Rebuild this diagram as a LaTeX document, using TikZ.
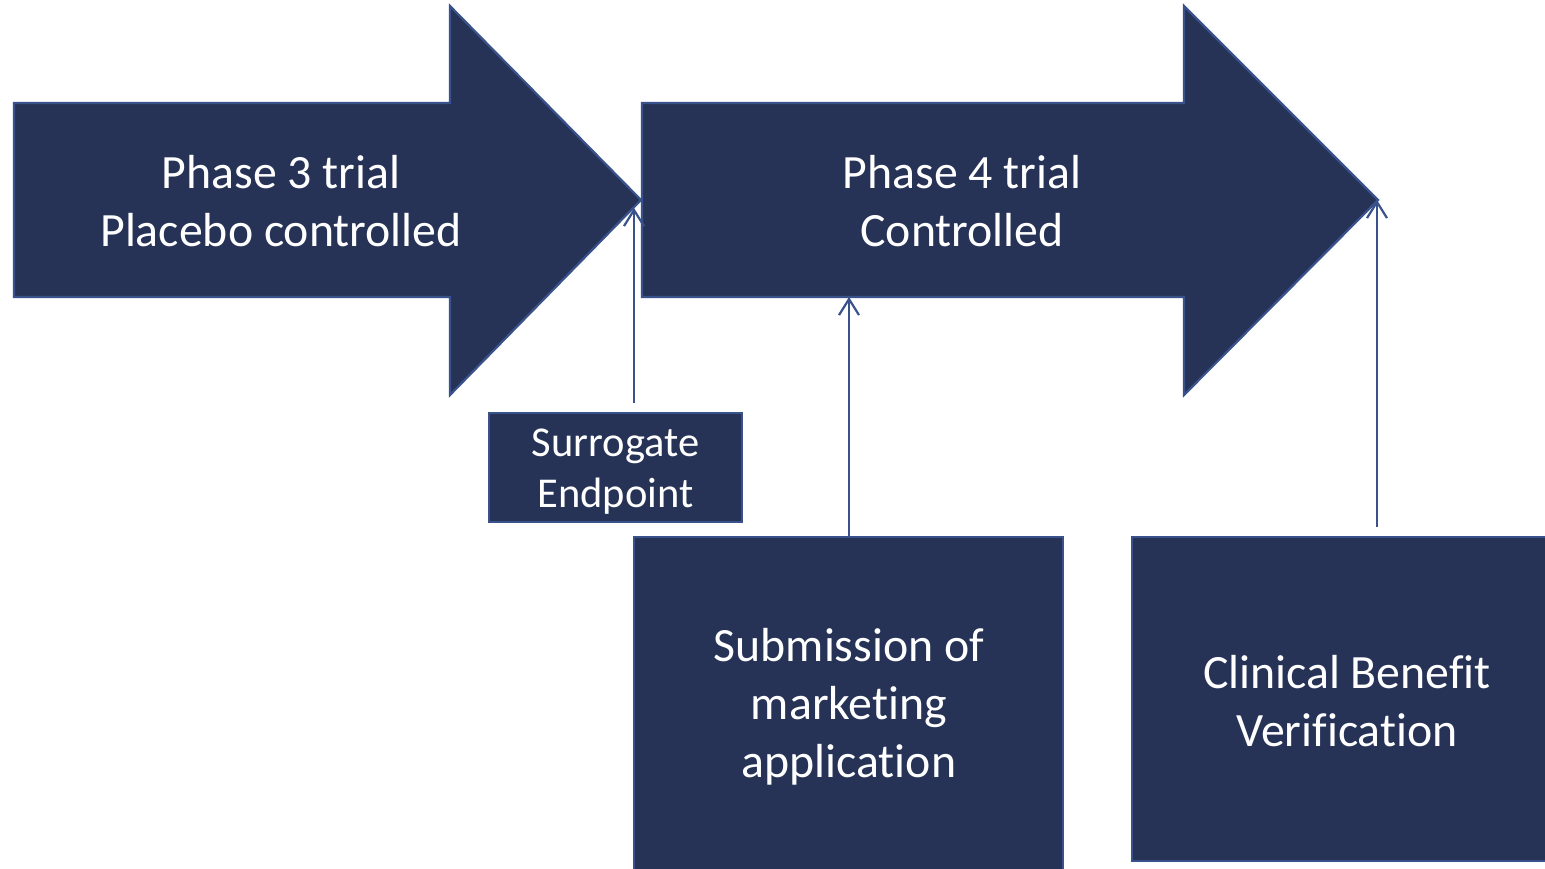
\documentclass[tikz,border=0pt]{standalone}
\usepackage{fontspec}
\setmainfont{Carlito}[Ligatures={NoCommon}]
\usetikzlibrary{arrows.meta}
\definecolor{navyfill}{HTML}{263357}
\definecolor{navyline}{HTML}{3A528C}
\tikzset{
  shapebox/.style={fill=navyfill, draw=navyline, line width=2.2pt},
  bigtext/.style={text=white, align=center, inner sep=0pt, font=\fontsize{47.8}{58}\selectfont},
  smalltext/.style={text=white, align=center, inner sep=0pt, font=\fontsize{42.5}{51}\selectfont},
  pointer/.style={draw=navyline, line width=2.2pt, -{Straight Barb[length=16pt,width=20pt,line width=2.2pt]}}
}
\begin{document}
\begin{tikzpicture}[x=1pt,y=-1pt]
\useasboundingbox (0,0) rectangle (1545,869);
% arrow 1
\path[shapebox] (14,103) -- (450,103) -- (450,6) -- (641,200) -- (450,395) -- (450,297) -- (14,297) -- cycle;
% arrow 2
\path[shapebox] (642,103) -- (1184,103) -- (1184,6) -- (1378,200) -- (1184,395) -- (1184,297) -- (642,297) -- cycle;
\node[bigtext] (p3) at (281,201) {Phase 3 trial\\Placebo controlled};
\node[bigtext] (p4) at (962,201) {Phase 4 trial\\Controlled};
% boxes
\node[shapebox, minimum width=253pt, minimum height=109pt, inner sep=0pt] (sur) at (615.5,467.5) {};
\node[smalltext] (surt) at (615.5,472) {Surrogate\\Endpoint};
\node[shapebox, minimum width=429pt, minimum height=340pt, inner sep=0pt] (sub) at (848.5,707) {};
\node[bigtext] (subt) at (849,707) {Submission of\\marketing\\application};
\node[shapebox, minimum width=420pt, minimum height=324pt, inner sep=0pt] (cli) at (1342,699) {};
\node[bigtext] (clit) at (1347,701) {Clinical Benefit\\Verification};
% connector anchors
\coordinate (a1s) at (634,403);
\coordinate (a1e) at (634,208);
\coordinate (a2s) at (849,537);
\coordinate (a2e) at (849,297);
\coordinate (a3s) at (1377,527);
\coordinate (a3e) at (1377,200);
\draw[pointer] (a1s) -- (a1e);
\draw[pointer] (a2s) -- (a2e);
\draw[pointer] (a3s) -- (a3e);
\end{tikzpicture}
\end{document}
